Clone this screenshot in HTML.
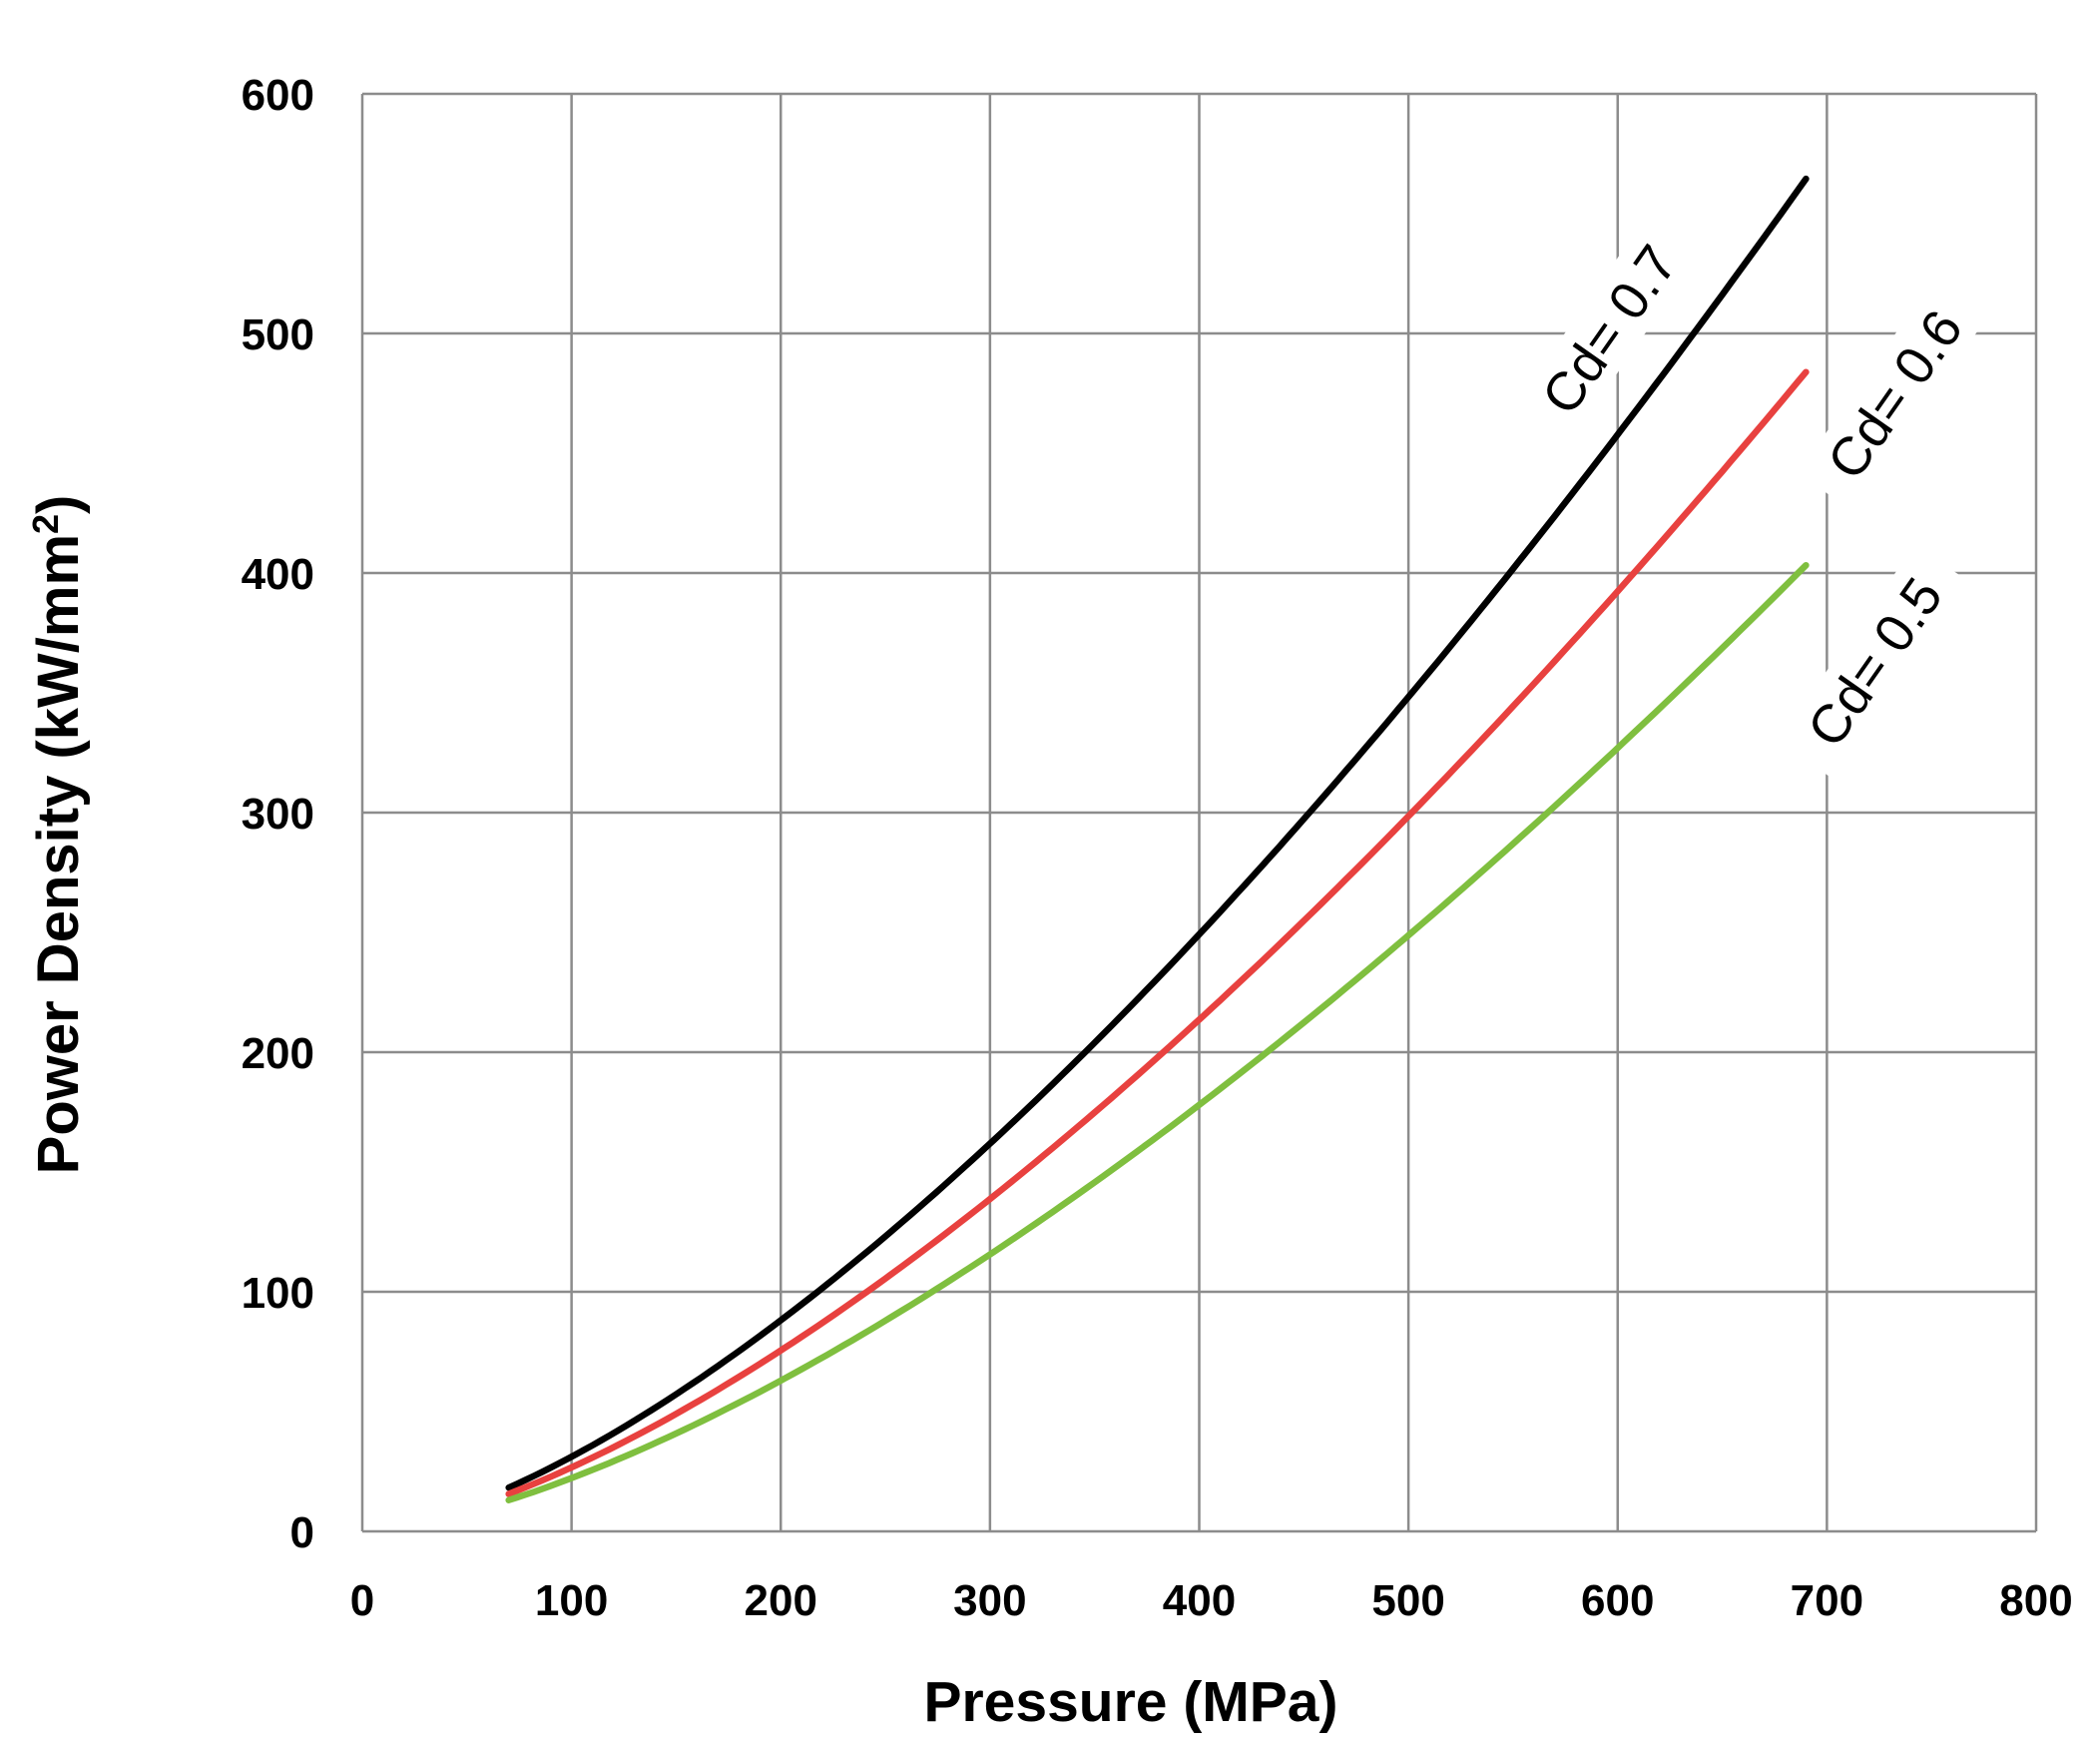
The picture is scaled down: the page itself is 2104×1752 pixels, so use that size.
<!DOCTYPE html>
<html><head><meta charset="utf-8"><style>
html,body{margin:0;padding:0;background:#fff}
svg text{font-family:"Liberation Sans",Arial,sans-serif}
</style></head><body>
<svg id="s" width="2104" height="1747" viewBox="0 0 2104 1747" xmlns="http://www.w3.org/2000/svg">
<rect width="2104" height="1747" fill="#fff"/>
<g id="grid" stroke="#8c8c8c" stroke-width="2.5" fill="none"></g>
<g id="curves" fill="none" stroke-width="6.5" stroke-linecap="round"></g>
<g font-size="54" fill="#000">
<g transform="translate(1612,330) rotate(-55)"><rect x="-120" y="-34" width="240" height="66" fill="#fff"/><text text-anchor="middle" dy="19">Cd= 0.7</text></g>
<g transform="translate(1898,395) rotate(-55)"><rect x="-120" y="-34" width="240" height="66" fill="#fff"/><text text-anchor="middle" dy="19">Cd= 0.6</text></g>
<g transform="translate(1878,663) rotate(-55)"><rect x="-120" y="-34" width="240" height="66" fill="#fff"/><text text-anchor="middle" dy="19">Cd= 0.5</text></g>
</g>
<g id="labels" font-size="44" font-weight="bold" fill="#000"></g>
<text x="1133" y="1724" text-anchor="middle" font-size="57" font-weight="bold">Pressure (MPa)</text>
<text transform="translate(78,836) rotate(-90)" text-anchor="middle" font-size="58" font-weight="bold">Power Density (kW/mm<tspan font-size="36" dy="-20">2</tspan><tspan dy="20">)</tspan></text>
</svg>
<script>
var x0=363,x1=2040,y0=1534,y1=94;
function X(p){return x0+(x1-x0)*p/800}
function Y(v){return y0-(y0-y1)*v/600}
var g=document.getElementById('grid'),h='';
for(var i=0;i<=8;i++)h+='<line x1="'+X(i*100)+'" y1="'+y1+'" x2="'+X(i*100)+'" y2="'+y0+'"/>';
for(var j=0;j<=6;j++)h+='<line x1="'+x0+'" y1="'+Y(j*100)+'" x2="'+x1+'" y2="'+Y(j*100)+'"/>';
g.innerHTML=h;
var c=document.getElementById('curves'),s='';
[[567,'#000'],[486,'#e8413f'],[405,'#7fbf3f']].forEach(function(a){
 var pts=[];for(var p=70;p<=692;p+=4){var pp=Math.min(p,692);pts.push(X(pp).toFixed(1)+','+Y(a[0]*Math.pow(pp/692,1.5)).toFixed(1));}
 s+='<polyline stroke="'+a[1]+'" points="'+pts.join(' ')+'"/>';
});
c.innerHTML=s;
var l=document.getElementById('labels'),t='';
for(var j=0;j<=6;j++)t+='<text x="315" y="'+(Y(j*100)+16)+'" text-anchor="end">'+(j*100)+'</text>';
for(var i=0;i<=8;i++)t+='<text x="'+X(i*100)+'" y="1618" text-anchor="middle">'+(i*100)+'</text>';
l.innerHTML=t;
</script>
</body></html>
